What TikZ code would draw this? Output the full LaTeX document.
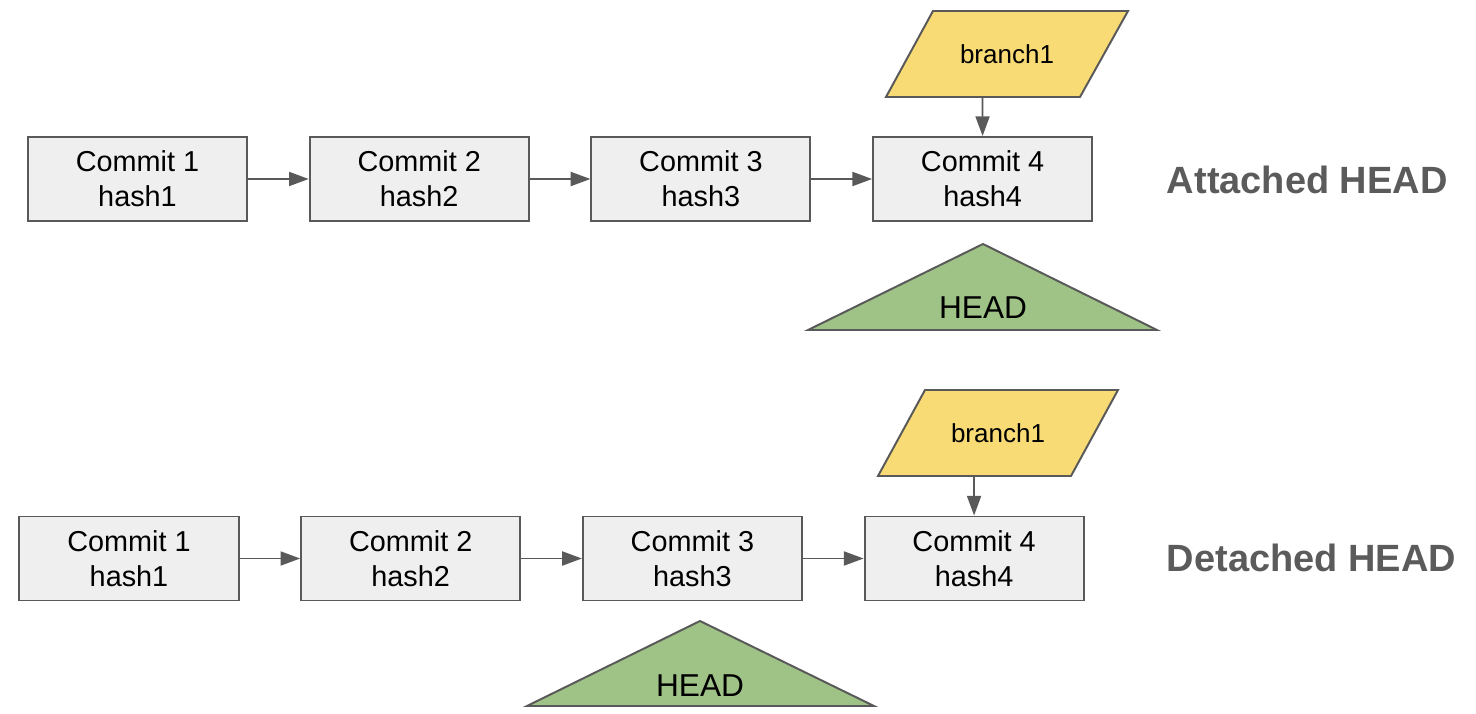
\documentclass[tikz,border=0pt]{standalone}
\usepackage{fontspec}
\setmainfont{Liberation Sans}
\usetikzlibrary{arrows.meta}
\definecolor{linegray}{HTML}{595959}
\definecolor{commitfill}{HTML}{EFEFEF}
\definecolor{branchfill}{HTML}{F8DB74}
\definecolor{headfill}{HTML}{9FC386}
\definecolor{titlegray}{HTML}{5B5B5B}

\begin{document}
\begin{tikzpicture}[x=0.025cm,y=-0.025cm,
    commit/.style={draw=linegray,line width=1.4pt,fill=commitfill,minimum width=5.475cm,
        minimum height=2.1cm,inner sep=0pt,align=center,font=\fontsize{20.5}{25}\selectfont},
    link/.style={draw=linegray,line width=1.2pt,-{Triangle[length=14pt,width=10pt]}},
    branchbox/.style={draw=linegray,line width=1.4pt,fill=branchfill},
    headbox/.style={draw=linegray,line width=1.4pt,fill=headfill},
    title/.style={anchor=west,text=titlegray,font=\fontsize{27}{30}\selectfont\bfseries}]
    \useasboundingbox (0,0) rectangle (1476,714);
    % attached head
    \foreach \i in {1,...,4}{
        \node[commit] (a\i) at ({137.5+281.7*(\i-1)},179) {Commit \i\\hash\i};
    }
    \foreach \i/\j in {1/2,2/3,3/4}
        \draw[link] (a\i) -- (a\j);
    \draw[branchbox] (886,97)--(933,11)--(1128,11)--(1080,97)--cycle;
    \node[font=\fontsize{18.5}{20}\selectfont] (ab) at (1007,54) {branch1};
    \coordinate (abs) at (982.5,97);
    \draw[link] (abs) -- (a4.north);
    \draw[headbox] (808,330)--(983,244)--(1157,330)--cycle;
    \node[font=\fontsize{22.5}{24}\selectfont] (ah) at (983,308) {HEAD};
    \node[title] (at) at (1162,180) {Attached HEAD};
    % detached head
    \foreach \i in {1,...,4}{
        \node[commit] (d\i) at ({129+281.7*(\i-1)},558.5) {Commit \i\\hash\i};
    }
    \foreach \i/\j in {1/2,2/3,3/4}
        \draw[link] (d\i) -- (d\j);
    \draw[branchbox] (878,476)--(925,390)--(1118,390)--(1071,476)--cycle;
    \node[font=\fontsize{18.5}{20}\selectfont] (db) at (998,433) {branch1};
    \coordinate (dbs) at (974,476);
    \draw[link] (dbs) -- (d4.north);
    \draw[headbox] (527,706)--(700,621)--(874,706)--cycle;
    \node[font=\fontsize{22.5}{24}\selectfont] (dh) at (700,686) {HEAD};
    \node[title] (dt) at (1162,558) {Detached HEAD};
\end{tikzpicture}
\end{document}
